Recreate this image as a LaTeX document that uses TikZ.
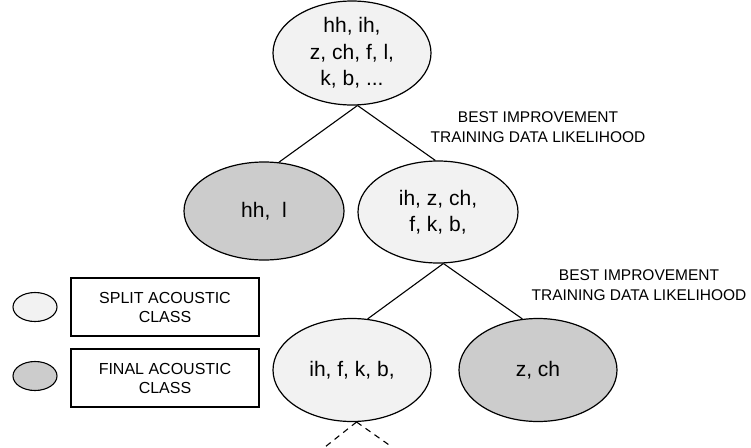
\documentclass[tikz,border=0pt]{standalone}
\usepackage{fontspec}
\setmainfont{Liberation Sans}
\usetikzlibrary{shapes.geometric}
\definecolor{lightfill}{HTML}{F2F2F2}
\definecolor{darkfill}{HTML}{CCCCCC}
\tikzset{
  cls/.style={ellipse, draw=black, line width=1.2pt, inner sep=0pt, align=center,
    font=\fontsize{21}{26.5}\selectfont},
  split/.style={cls, fill=lightfill},
  final/.style={cls, fill=darkfill},
  edge/.style={draw=black, line width=1.1pt},
  dashedge/.style={draw=black, line width=1.1pt, dash pattern=on 6pt off 5pt},
  note/.style={align=center, font=\fontsize{15.5}{20}\selectfont, inner sep=0pt},
  legbox/.style={draw=black, line width=1.1pt, minimum width=188pt, minimum height=58pt,
    align=center, inner sep=0pt, font=\fontsize{16}{19}\selectfont},
  legell/.style={ellipse, draw=black, line width=1.1pt, minimum width=44pt, minimum height=29pt, inner sep=0pt}
}
\begin{document}
\begin{tikzpicture}[x=1pt, y=-1pt]
\useasboundingbox (0,0) rectangle (751,447);
\node[split, minimum width=158pt, minimum height=104pt] (root) at (352,53) {hh, ih,\\z, ch, f, l,\\k, b, ...};
\node[final, minimum width=160pt, minimum height=98pt] (hl) at (264,211) {hh,\ \ l};
\node[split, minimum width=160pt, minimum height=102pt] (mid) at (438,212) {ih, z, ch,\\f, k, b,};
\node[split, minimum width=158pt, minimum height=103pt] (ifkb) at (352,370) {ih, f, k, b,};
\node[final, minimum width=158pt, minimum height=103pt] (zch) at (538,370) {z, ch};
\draw[edge] (root.-84) -- (hl.73);
\draw[edge] (root.-84) -- (mid.93);
\draw[edge] (mid.-84) -- (ifkb.73);
\draw[edge] (mid.-84) -- (zch.107);
\coordinate (dl) at (325,447);
\coordinate (dr) at (392,447);
\draw[dashedge] (ifkb.-85) -- (dl);
\draw[dashedge] (ifkb.-85) -- (dr);
\node[note] (n1) at (538,127) {BEST IMPROVEMENT\\TRAINING DATA LIKELIHOOD};
\node[note] (n2) at (639,285) {BEST IMPROVEMENT\\TRAINING DATA LIKELIHOOD};
\node[legell, fill=lightfill] (le1) at (35,307) {};
\node[legbox] (lb1) at (165,307) {SPLIT ACOUSTIC\\CLASS};
\node[legell, fill=darkfill] (le2) at (35,376) {};
\node[legbox] (lb2) at (165,378) {FINAL ACOUSTIC\\CLASS};
\end{tikzpicture}
\end{document}
